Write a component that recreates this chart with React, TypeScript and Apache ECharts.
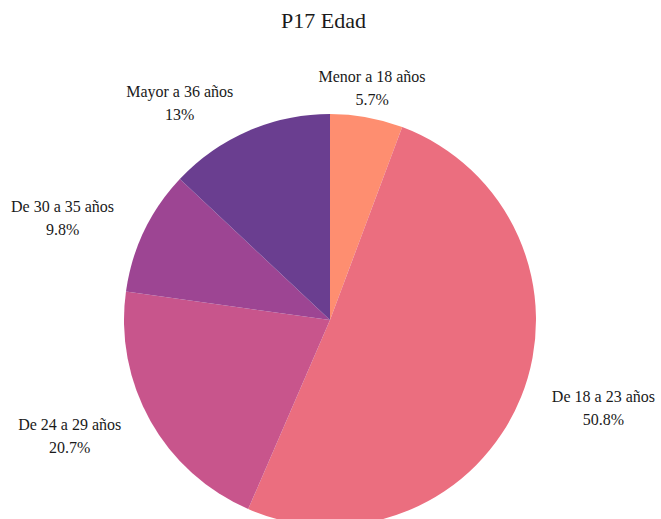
import React, { useEffect, useRef } from "react";
import * as echarts from "echarts";

const categories = [
  "Menor a 18 años",
  "De 18 a 23 años",
  "De 24 a 29 años",
  "De 30 a 35 años",
  "Mayor a 36 años",
];
const percentLabels = ["5.7%", "50.8%", "20.7%", "9.8%", "13%"];
const values = [5.7, 50.8, 20.7, 9.8, 13.0];
const colors = ["#FE8E70", "#EB6E7F", "#C8558C", "#9D4593", "#6A3E90"];

const W = 661;
const H = 519;
const CX = 330;
const CY = 320;
const R = 206;
const LABEL_DIST = 30;

export default function App() {
  const ref = useRef<HTMLDivElement>(null);
  useEffect(() => {
    if (!ref.current) return;
    const chart = echarts.init(ref.current, null, { renderer: "svg" });
    const total = values.reduce((a, b) => a + b, 0);
    let cum = 0;
    const mids = values.map((v) => {
      const a = ((cum + v / 2) / total) * Math.PI * 2;
      cum += v;
      return a;
    });
    chart.setOption({
      animation: false,
      title: {
        text: "P17 Edad",
        left: 276,
        top: 4,
        textStyle: {
          fontFamily: "Liberation Serif",
          fontSize: 22,
          fontWeight: "normal",
          color: "#1a1a1a",
        },
      },
      series: [
        {
          type: "pie",
          center: [CX, CY],
          radius: R,
          startAngle: 90,
          clockwise: true,
          avoidLabelOverlap: false,
          data: values.map((v, i) => ({
            name: categories[i],
            value: v,
            itemStyle: { color: colors[i] },
          })),
          label: {
            show: true,
            position: "outside",
            formatter: (p: any) =>
              `{a|${categories[p.dataIndex]}}\n{a|${percentLabels[p.dataIndex]}}`,
            rich: {
              a: {
                align: "center",
                fontFamily: "Liberation Serif",
                fontSize: 16,
                lineHeight: 23,
                color: "#1a1a1a",
              },
            },
          },
          labelLine: { show: false },
          labelLayout: (p: any) => {
            const a = mids[p.dataIndex];
            const dx = Math.sin(a);
            const dy = -Math.cos(a);
            const ax = CX + (R + LABEL_DIST) * dx;
            const ay = CY + (R + LABEL_DIST) * dy;
            const w = p.labelRect.width;
            let x = ax;
            if (Math.abs(dx) > 0.25) x = ax + Math.sign(dx) * (w / 2 + 3);
            return { x, y: ay, align: "center", verticalAlign: "middle" };
          },
        },
      ],
    });
    return () => chart.dispose();
  }, []);
  return (
    <div
      ref={ref}
      style={{ position: "absolute", left: 0, top: 0, width: W, height: H }}
    />
  );
}
